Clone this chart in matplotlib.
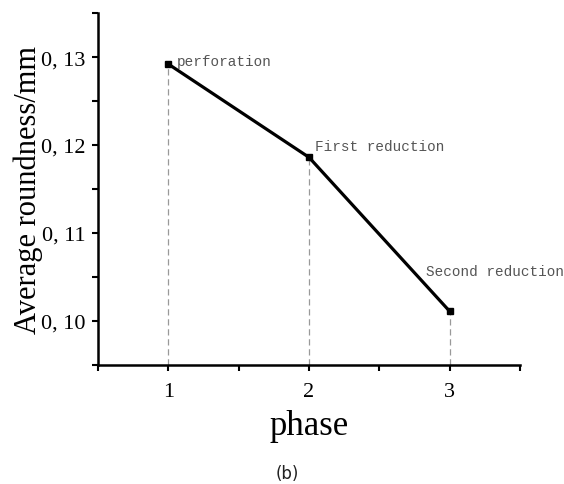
import matplotlib.pyplot as plt
from matplotlib.ticker import MultipleLocator, FuncFormatter

# data
phase = [1, 2, 3]
roundness = [0.1292, 0.1186, 0.1011]
labels = ["perforation", "First reduction", "Second reduction"]
label_offsets = [(6, 2.5), (4, 8), (-17, 29)]  # points

fig = plt.figure(figsize=(5.64, 4.85), dpi=100)
ax = fig.add_axes([0.1738, 0.2454, 0.922 - 0.1738, 0.971 - 0.2454])

ax.plot(phase, roundness, color='black', lw=2.3, marker='s', ms=5, zorder=3)

# dashed drop lines
for x, y in zip(phase, roundness):
    ax.plot([x, x], [0.095, y], color='#999999', lw=0.9, ls=(0, (5, 3)), zorder=1)

for x, y, txt, off in zip(phase, roundness, labels, label_offsets):
    ax.annotate(txt, (x, y), xytext=off, textcoords='offset points',
                family='Liberation Mono', fontsize=10.4, color='#555555',
                ha='left', va='center')

ax.set_xlim(0.5, 3.5)
ax.set_ylim(0.095, 0.135)
ax.xaxis.set_major_locator(MultipleLocator(1))
ax.xaxis.set_minor_locator(MultipleLocator(0.5))
ax.yaxis.set_major_locator(MultipleLocator(0.01))
ax.yaxis.set_minor_locator(MultipleLocator(0.005))
ax.yaxis.set_major_formatter(FuncFormatter(lambda v, p: ("%.2f" % v).replace('.', ', ')))

for s in ['top', 'right']:
    ax.spines[s].set_visible(False)
for s in ['left', 'bottom']:
    ax.spines[s].set_linewidth(1.8)

ax.tick_params(which='both', direction='out', width=1.5, length=4)
ax.tick_params(which='major', labelsize=16)
ax.tick_params(axis='x', which='major', pad=8)
ax.tick_params(axis='y', which='major', pad=5)
for lab in ax.get_xticklabels() + ax.get_yticklabels():
    lab.set_family('Liberation Serif')

ax.set_xlabel('phase', family='Liberation Serif', fontsize=25, labelpad=6)
ax.set_ylabel('Average roundness/mm', family='Liberation Serif', fontsize=22)
ax.yaxis.set_label_coords(-0.13, 0.5)

fig.text(0.509, 0.022, '(b)', fontsize=12, color='#222222', ha='center', va='center')

fig.savefig('out.png', dpi=100)
